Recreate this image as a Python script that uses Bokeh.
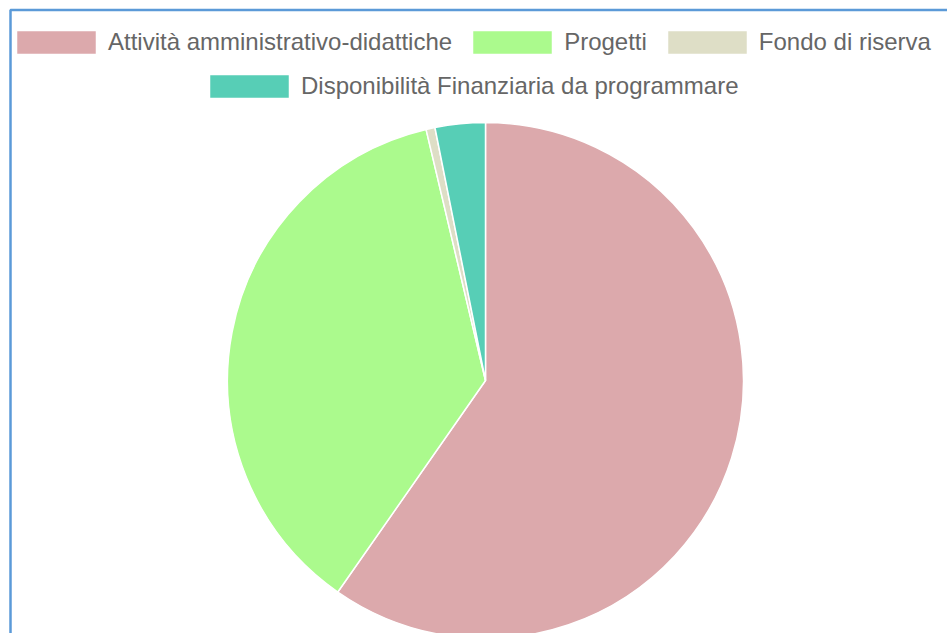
import math
from bokeh.plotting import figure
from bokeh.models import Range1d, Legend, LegendItem, ColumnDataSource
from bokeh.embed import file_html
from bokeh.resources import INLINE

# ---- data ----
categories = [
    "Attività amministrativo-didattiche",
    "Progetti",
    "Fondo di riserva",
    "Disponibilità Finanziaria da programmare",
]
values = [59.7, 36.6, 0.56, 3.14]
colors = ["#DCA9AC", "#ABFA8D", "#DEDEC6", "#57CEB6"]

W, H = 947, 633
total = sum(values)
starts, ends = [], []
cum = 0.0
for v in values:
    starts.append(math.pi / 2 - cum / total * 2 * math.pi)
    cum += v
    ends.append(math.pi / 2 - cum / total * 2 * math.pi)

src = ColumnDataSource(dict(cat=categories, val=values, color=colors,
                            start=starts, end=ends))

p = figure(width=W, height=H, output_backend="svg", toolbar_location=None,
           x_range=Range1d(0, W), y_range=Range1d(0, H),
           min_border=0, outline_line_color=None)
p.axis.visible = False
p.grid.visible = False
p.background_fill_color = "white"
p.border_fill_color = "white"

# outer container border (blue)
p.quad(left=[10], right=[W + 50], top=[H - 9.5], bottom=[-50],
       fill_alpha=0, line_color="#5B9AD8", line_width=2.5)

cx, cy, r = 485, H - 380, 258
renderers = []
for i in range(len(values)):
    rr = p.wedge(x=cx, y=cy, radius=r, start_angle=starts[i], end_angle=ends[i],
                 direction="clock", fill_color=colors[i], line_color="white",
                 line_width=1.5)
    renderers.append(rr)

common = dict(orientation="horizontal", glyph_width=100, glyph_height=30,
              label_standoff=2, spacing=10, padding=0, margin=0,
              border_line_alpha=0, background_fill_alpha=0,
              label_text_font="Liberation Sans", label_text_font_size="24px",
              label_text_color="#666666", label_height=30,
              click_policy="none")

leg1 = Legend(items=[LegendItem(label=categories[i], renderers=[renderers[i]]) for i in range(3)],
              location=(6, H - 57), **common)
leg2 = Legend(items=[LegendItem(label=categories[3], renderers=[renderers[3]])],
              location=(199, H - 101), **common)
p.add_layout(leg1, "center")
p.add_layout(leg2, "center")

open("out.html", "w").write(file_html(p, INLINE))
